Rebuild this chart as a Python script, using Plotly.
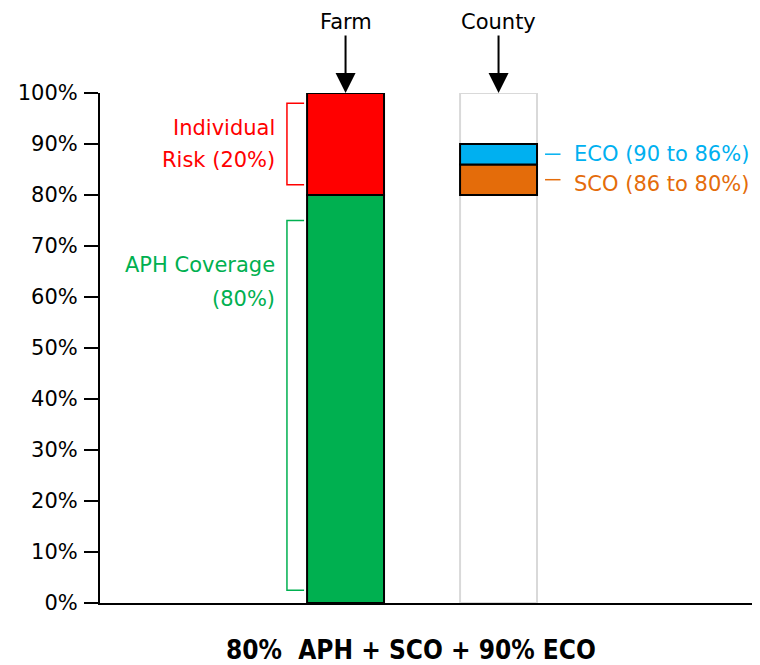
import plotly.graph_objects as go

# ---- data ----
categories = ["Farm", "County"]
farm_aph = 0.80          # APH coverage level
farm_individual = 0.20   # individual risk share
county_full = 1.00
sco_range = [0.80, 0.86]  # SCO band
eco_range = [0.86, 0.90]  # ECO band
y_ticks = [i / 10 for i in range(11)]

title_text = "80%  APH + SCO + 90% ECO"

GREEN = "#00b050"
RED = "#ff0000"
BLUE = "#00b0f0"
ORANGE = "#e46c0a"
FONT = "DejaVu Sans"
FS = 21

bar_w = 0.503
fig = go.Figure()

# County outline bar (full 100%)
fig.add_bar(x=[categories[1]], y=[county_full], base=[0], width=bar_w,
            marker=dict(color="white", line=dict(color="#d9d9d9", width=2)),
            showlegend=False)
# Farm bars
fig.add_bar(x=[categories[0]], y=[farm_aph], base=[0], width=bar_w,
            marker=dict(color=GREEN, line=dict(color="black", width=2)),
            showlegend=False)
fig.add_bar(x=[categories[0]], y=[farm_individual], base=[farm_aph], width=bar_w,
            marker=dict(color=RED, line=dict(color="black", width=2)),
            showlegend=False)
# County SCO / ECO
fig.add_bar(x=[categories[1]], y=[sco_range[1] - sco_range[0]], base=[sco_range[0]], width=bar_w,
            marker=dict(color=ORANGE, line=dict(color="black", width=2)),
            showlegend=False)
fig.add_bar(x=[categories[1]], y=[eco_range[1] - eco_range[0]], base=[eco_range[0]], width=bar_w,
            marker=dict(color=BLUE, line=dict(color="black", width=2)),
            showlegend=False)

# brackets
bx0, bx1 = -0.383, -0.271
def bracket(y0, y1, color):
    fig.add_shape(type="path", xref="x", yref="y",
                  path=f"M {bx1},{y1} L {bx0},{y1} L {bx0},{y0} L {bx1},{y0}",
                  line=dict(color=color, width=1.5))

bracket(farm_aph + 0.02, county_full - 0.02, RED)
bracket(0.025, farm_aph - 0.05, GREEN)

def two_line(lines, yc, color, gap):
    for line, shift in zip(lines, [gap, -gap]):
        fig.add_annotation(x=-0.45, y=yc, xref="x", yref="y", yshift=shift,
                           text=line, showarrow=False, xanchor="right",
                           font=dict(family=FONT, size=FS, color=color))

two_line(["Individual", "Risk (20%)"], (farm_aph + county_full) / 2, RED, 16)
two_line(["APH Coverage", "(80%)"], 0.63, GREEN, 17)

# ECO / SCO labels with dashes
for rng, txt, col, ys in [(eco_range, "ECO (90 to 86%)", BLUE, 0),
                          (sco_range, "SCO (86 to 80%)", ORANGE, -4)]:
    ym = (rng[0] + rng[1]) / 2
    fig.add_shape(type="line", xref="x", yref="y", x0=1.304, x1=1.405, y0=ym, y1=ym,
                  line=dict(color=col, width=1.5))
    fig.add_annotation(x=1.48, y=ym, xref="x", yref="y", yshift=ys, text=txt, showarrow=False,
                       xanchor="left", font=dict(family=FONT, size=FS, color=col))

# arrows with labels
for cat in categories:
    fig.add_annotation(x=cat, y=county_full, xref="x", yref="y", text=cat,
                       showarrow=True, ax=0, ay=-71, arrowhead=2, arrowsize=2.0,
                       arrowwidth=2, arrowcolor="black",
                       font=dict(family=FONT, size=FS, color="black"))

# bottom title
fig.add_annotation(x=(411 - 100) / 660, y=-(650 - 603) / 510, xref="paper", yref="paper",
                   xanchor="center", yanchor="middle",
                   text=f"<b>{title_text}</b>", showarrow=False,
                   font=dict(family="DejaVu Sans Condensed", size=26, color="black"))

fig.update_layout(
    width=752, height=657,
    margin=dict(l=92, r=0, t=85, b=62),
    plot_bgcolor="white", paper_bgcolor="white",
    barmode="overlay",
    xaxis=dict(range=[-1.605, 2.709], showticklabels=False, ticks="", showgrid=False,
               showline=True, linecolor="black", linewidth=2, zeroline=False,
               automargin=False,
               categoryorder="array", categoryarray=categories),
    yaxis=dict(range=[0, 1], tickvals=y_ticks, tickformat=".0%", ticks="outside",
               ticklen=14, tickwidth=2, tickcolor="black", showgrid=False,
               showline=True, linecolor="black", linewidth=2, zeroline=False,
               ticklabelstandoff=2, automargin=False,
               tickfont=dict(family=FONT, size=FS, color="black")),
)

fig.write_html("out.html")
